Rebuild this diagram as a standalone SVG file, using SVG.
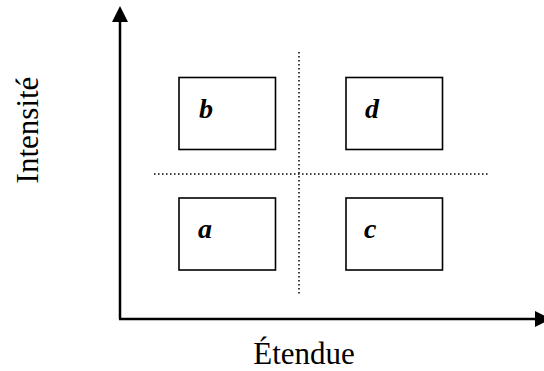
<svg xmlns="http://www.w3.org/2000/svg" width="544" height="371" viewBox="0 0 544 371">
<style>
.box{fill:#fff;stroke:#000;stroke-width:1.6}
.lbl{font-family:"Liberation Serif","Times New Roman",serif;font-weight:bold;font-style:italic;font-size:28px;fill:#000}
.ax{font-family:"Liberation Serif","Times New Roman",serif;font-size:31px;fill:#000}
.dot{stroke:#000;stroke-width:1.5;stroke-dasharray:1.5 2.5;fill:none}
.axis{stroke:#000;stroke-width:2.5;fill:none}
</style>
<rect width="544" height="371" fill="#fff"/>
<g id="connectors">
<line class="dot" x1="299" y1="52" x2="299" y2="295"/>
<line class="dot" x1="154" y1="174" x2="490" y2="174"/>
<line class="axis" x1="120" y1="20" x2="120" y2="319"/>
<line class="axis" x1="119" y1="319" x2="537" y2="319"/>
<polygon points="120,6 112,22 128,22" fill="#000"/>
<polygon points="551,319 535,311 535,327" fill="#000"/>
</g>
<g id="node-b"><rect class="box" x="179" y="77.5" width="96.5" height="72"/><text class="lbl" x="199" y="118">b</text></g>
<g id="node-d"><rect class="box" x="346" y="77.5" width="96.5" height="72"/><text class="lbl" x="365" y="118">d</text></g>
<g id="node-a"><rect class="box" x="179" y="198" width="96.5" height="72"/><text class="lbl" x="198" y="238">a</text></g>
<g id="node-c"><rect class="box" x="346" y="198" width="96.5" height="72"/><text class="lbl" x="364" y="238">c</text></g>
<g id="axis-labels">
<text class="ax" x="304" y="364" text-anchor="middle">Étendue</text>
<text class="ax" transform="translate(38,130) rotate(-90)" text-anchor="middle">Intensité</text>
</g>
</svg>
